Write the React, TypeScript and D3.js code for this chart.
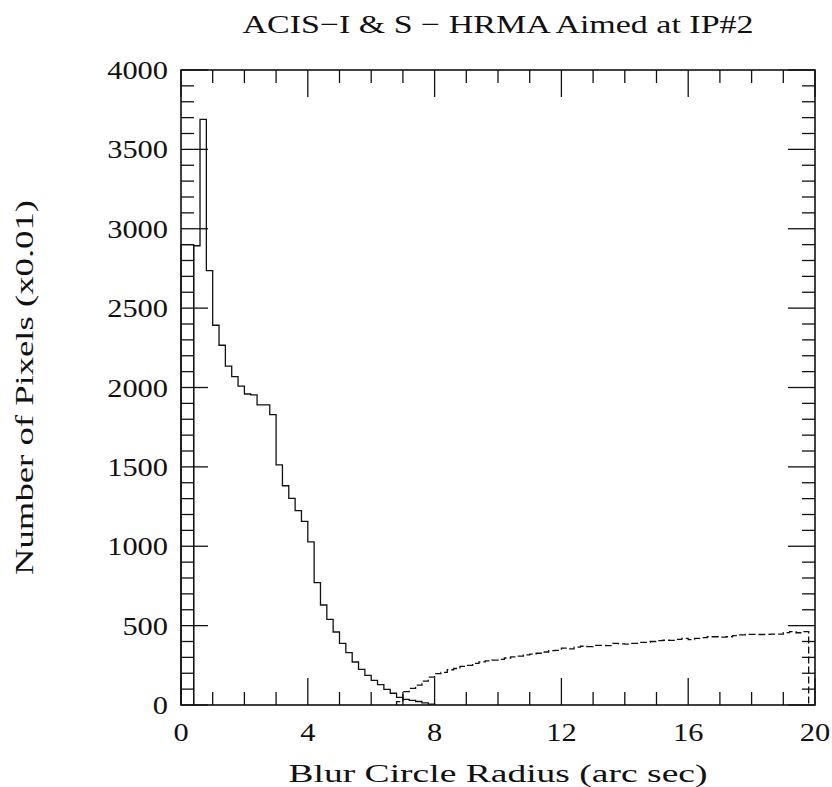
import React from "react";
import * as d3 from "d3";

const title = "ACIS\u2212I & S \u2212 HRMA Aimed at IP#2";
const xLabel = "Blur Circle Radius (arc sec)";
const yLabel = "Number of Pixels (x0.01)";

const binWidth = 0.2;

const innerStart = 0;
const innerCounts = [2900, 2900];

const mainStart = 0.4;
const mainCounts = [
  2893, 3689, 2736, 2392, 2266, 2135, 2068, 2009, 1959, 1953,
  1890, 1890, 1829, 1512, 1381, 1302, 1224, 1157, 1027, 771,
  630, 540, 460, 388, 330, 271, 225, 187, 155, 128,
  99, 74, 48, 36, 29, 22, 14, 6,
];

const dashedStart = 6.8;
const dashedCounts = [
  21, 84, 105, 125, 150, 175, 198, 205, 222, 230,
  243, 250, 262, 272, 278, 283, 288, 296, 303, 308,
  316, 320, 326, 334, 342, 344, 358, 354, 364, 370,
  368, 375, 376, 374, 388, 385, 384, 388, 394, 395,
  400, 406, 408, 407, 413, 420, 412, 420, 424, 430,
  430, 428, 430, 437, 442, 445, 445, 444, 445, 446,
  446, 456, 462, 455, 462,
];

const xMajorTicks = [0, 4, 8, 12, 16, 20];
const yMajorTicks = [0, 500, 1000, 1500, 2000, 2500, 3000, 3500, 4000];
const xDomain = [0, 20];
const yDomain = [0, 4000];
const xMinorStep = 1;
const yMinorStep = 100;

const W = 832;
const H = 787;
const margin = { left: 181, right: 17, top: 70, bottom: 82 };

function stepPoints(start: number, counts: number[]): [number, number][] {
  const pts: [number, number][] = [[start, 0]];
  counts.forEach((c, i) => {
    pts.push([start + i * binWidth, c]);
    pts.push([start + (i + 1) * binWidth, c]);
  });
  pts.push([start + counts.length * binWidth, 0]);
  return pts;
}

export default function App() {
  const x = d3.scaleLinear().domain(xDomain).range([margin.left, W - margin.right]);
  const y = d3.scaleLinear().domain(yDomain).range([H - margin.bottom, margin.top]);
  const line = d3
    .line<[number, number]>()
    .x((d) => x(d[0]))
    .y((d) => y(d[1]));

  const x0 = x(xDomain[0]);
  const x1 = x(xDomain[1]);
  const y0 = y(yDomain[0]);
  const y1 = y(yDomain[1]);

  const xMinor = d3.range(xDomain[0], xDomain[1] + 0.001, xMinorStep);
  const yMinor = d3.range(yDomain[0], yDomain[1] + 0.001, yMinorStep);
  const isXMajor = (v: number) => xMajorTicks.some((t) => Math.abs(t - v) < 1e-6);
  const isYMajor = (v: number) => yMajorTicks.some((t) => Math.abs(t - v) < 1e-6);
  const minorLen = 13;
  const majorLen = 27;

  const font = "'Liberation Serif', 'DejaVu Serif', serif";
  const fs = 26;
  const digitW = 15.2;
  const stroke = "#111";

  return (
    <svg
      width={W}
      height={H}
      style={{ position: "absolute", left: 0, top: 0, background: "#fff" }}
    >
      <rect x={0} y={0} width={W} height={H} fill="#fff" />
      {/* histograms */}
      <path d={line(stepPoints(innerStart, innerCounts)) || ""} fill="none" stroke={stroke} strokeWidth={1.3} />
      <path d={line(stepPoints(mainStart, mainCounts)) || ""} fill="none" stroke={stroke} strokeWidth={1.3} />
      <path
        d={line(stepPoints(dashedStart, dashedCounts)) || ""}
        fill="none"
        stroke={stroke}
        strokeWidth={1.3}
        strokeDasharray="7,3"
      />
      {/* frame */}
      <rect x={x0} y={y1} width={x1 - x0} height={y0 - y1} fill="none" stroke={stroke} strokeWidth={1.6} />
      {/* x ticks */}
      {xMinor.map((v) => {
        const L = isXMajor(v) ? majorLen : minorLen;
        return (
          <g key={"xt" + v}>
            <line x1={x(v)} x2={x(v)} y1={y0} y2={y0 - L} stroke={stroke} strokeWidth={1.3} />
            <line x1={x(v)} x2={x(v)} y1={y1} y2={y1 + L} stroke={stroke} strokeWidth={1.3} />
          </g>
        );
      })}
      {/* y ticks */}
      {yMinor.map((v) => {
        const L = isYMajor(v) ? majorLen : minorLen;
        return (
          <g key={"yt" + v}>
            <line x1={x0} x2={x0 + L} y1={y(v)} y2={y(v)} stroke={stroke} strokeWidth={1.3} />
            <line x1={x1} x2={x1 - L} y1={y(v)} y2={y(v)} stroke={stroke} strokeWidth={1.3} />
          </g>
        );
      })}
      {/* tick labels */}
      {xMajorTicks.map((v) => (
        <text
          key={"xl" + v}
          x={x(v)}
          y={y0 + 36}
          textAnchor="middle"
          fontFamily={font}
          fontSize={fs}
          fill={stroke}
          textLength={String(v).length * digitW}
          lengthAdjust="spacingAndGlyphs"
        >
          {v}
        </text>
      ))}
      {yMajorTicks.map((v) => (
        <text
          key={"yl" + v}
          x={x0 - 13}
          y={y(v) + 9}
          textAnchor="end"
          fontFamily={font}
          fontSize={fs}
          fill={stroke}
          textLength={String(v).length * digitW}
          lengthAdjust="spacingAndGlyphs"
        >
          {v}
        </text>
      ))}
      {/* title & labels */}
      <text
        x={(x0 + x1) / 2}
        y={33}
        textAnchor="middle"
        fontFamily={font}
        fontSize={fs}
        fill={stroke}
        textLength={511}
        lengthAdjust="spacingAndGlyphs"
      >
        {title}
      </text>
      <text
        x={(x0 + x1) / 2}
        y={782}
        textAnchor="middle"
        fontFamily={font}
        fontSize={fs}
        fill={stroke}
        textLength={419}
        lengthAdjust="spacingAndGlyphs"
      >
        {xLabel}
      </text>
      <text
        transform={`translate(33, ${(y0 + y1) / 2}) rotate(-90)`}
        textAnchor="middle"
        fontFamily={font}
        fontSize={fs}
        fill={stroke}
        textLength={375}
        lengthAdjust="spacingAndGlyphs"
      >
        {yLabel}
      </text>
    </svg>
  );
}
